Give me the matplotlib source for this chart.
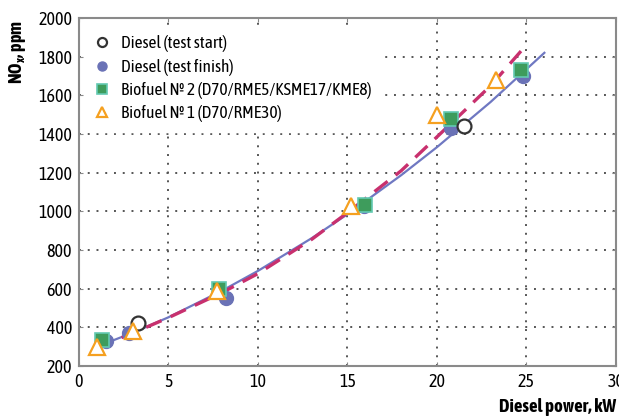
import matplotlib
matplotlib.use("Agg")
import matplotlib.pyplot as plt
from matplotlib import font_manager as fm

names = {f.name for f in fm.fontManager.ttflist}
cond = next((n for n in ["Asap Condensed", "Barlow Semi Condensed", "Archivo Narrow", "Liberation Sans"] if n in names), "DejaVu Sans")
plt.rcParams['font.family'] = [cond, 'DejaVu Sans']
plt.rcParams['mathtext.fontset'] = 'custom'
plt.rcParams['mathtext.rm'] = cond
plt.rcParams['mathtext.bf'] = cond + ':bold'
plt.rcParams['mathtext.it'] = cond + ':bold'

# Data
start_x = [3.3, 21.5]
start_y = [420, 1440]
finish_x = [1.5, 2.8, 8.2, 15.9, 20.8, 24.8]
finish_y = [330, 370, 550, 1030, 1430, 1700]
bio2_x = [1.3, 7.8, 16.0, 20.8, 24.7]
bio2_y = [335, 600, 1035, 1480, 1730]
bio1_x = [1.0, 3.0, 7.7, 15.2, 20.0, 23.3]
bio1_y = [300, 380, 590, 1030, 1500, 1680]

# trend lines
fit_d_x = [1, 3, 5, 8, 10, 13, 15, 18, 20, 23, 26]
fit_d_y = [300, 372, 452, 590, 692, 861, 985, 1187, 1332, 1566, 1820]
fit_b_x = [1, 3, 5, 8, 10, 13, 15, 18, 20, 23, 24.8]
fit_b_y = [295, 370, 450, 580, 678, 855, 993, 1210, 1385, 1650, 1840]

xticks = [0, 5, 10, 15, 20, 25, 30]
yticks = [200, 400, 600, 800, 1000, 1200, 1400, 1600, 1800, 2000]

fig = plt.figure(figsize=(6.19, 4.19), dpi=100)
ax = fig.add_axes([0.1276, 0.1265, 0.8675, 0.8305])

ax.plot(fit_d_x, fit_d_y, '-', color='#6f78c2', lw=1.6, zorder=3)
ax.plot(fit_b_x, fit_b_y, '--', color='#c8306e', lw=2.4, dashes=(5, 3), zorder=3)

ax.plot(finish_x, finish_y, 'o', ms=10, color='#6a72b6', mec='#6a72b6', zorder=4,
        label='Diesel (test finish)')
ax.plot(bio2_x, bio2_y, 's', ms=10, color='#3e9c5c', mec='#63c9b2', mew=1.2, zorder=5,
        label='Biofuel № 2 (D70/RME5/KSME17/KME8)')
ax.plot(start_x, start_y, 'o', ms=10, mfc='white', mec='#333333', mew=1.6, zorder=6,
        label='Diesel (test start)')
ax.plot(bio1_x, bio1_y, '^', ms=11, mfc='white', mec='#f5a020', mew=1.6, zorder=6,
        label='Biofuel № 1 (D70/RME30)')

ax.set_xlim(0, 30)
ax.set_ylim(200, 2000)
ax.set_xticks(xticks)
ax.set_yticks(yticks)
ax.tick_params(labelsize=13, direction='in', length=3, color='#888888', top=True, right=True, pad=5)
for s in ax.spines.values():
    s.set_color('#8a8a8a')
    s.set_linewidth(1.5)
ax.grid(True, color='#555555', linestyle=(0, (1, 3.5)), lw=1.4)
ax.set_axisbelow(True)

fig.text(17 / 619, 1 - 20 / 419, r'NO$_\mathbf{x}$, ppm', fontsize=13, fontweight='bold',
         rotation=90, ha='center', va='top')
fig.text(0.995, 0.008, 'Diesel power, kW', fontsize=13.5, fontweight='bold', ha='right', va='bottom')

h, l = ax.get_legend_handles_labels()
order = [2, 0, 1, 3]
leg = ax.legend([h[i] for i in order], [l[i] for i in order], loc='upper left',
                fontsize=12.5, frameon=True, framealpha=1, facecolor='white', edgecolor='white',
                markerscale=0.65, handlelength=0.7, handletextpad=0.7, labelspacing=0.36,
                borderpad=0.55, borderaxespad=0.45, bbox_to_anchor=(0.0, 1.0))
leg.set_zorder(10)

fig.savefig('out.png', dpi=100)
